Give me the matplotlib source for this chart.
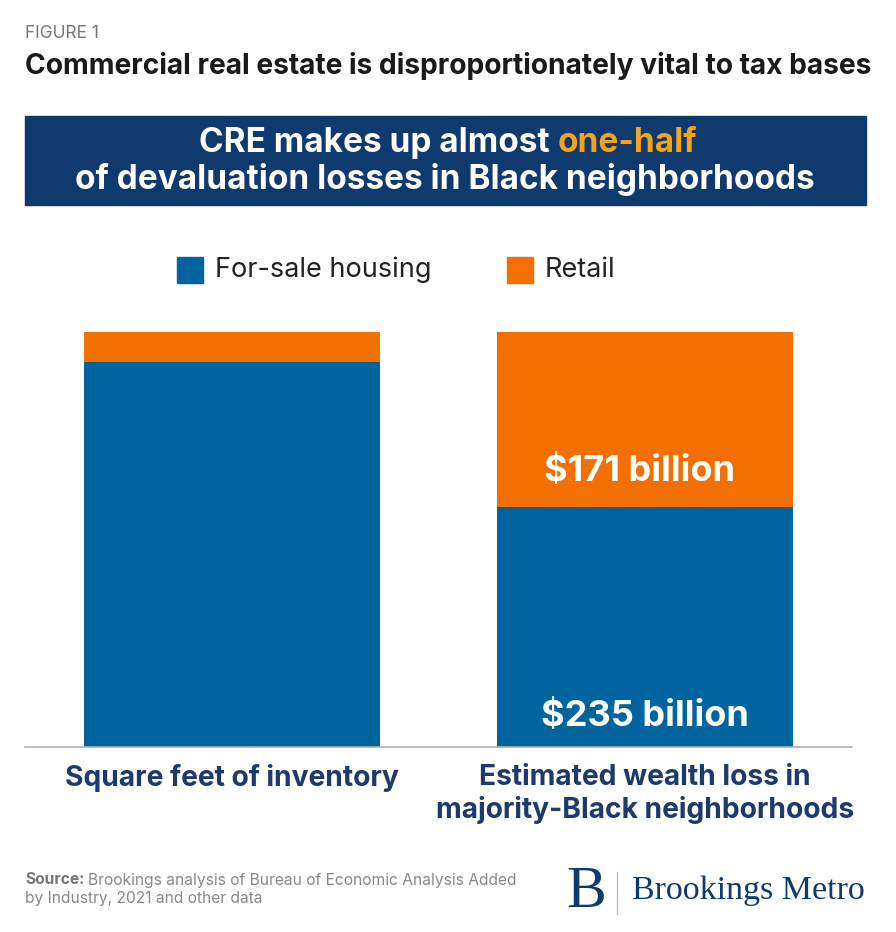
import matplotlib.pyplot as plt
from matplotlib.patches import Rectangle

categories = ["Square feet of inventory", "Estimated wealth loss in\nmajority-Black neighborhoods"]
housing = [92.7, 235]   # left bar: share of inventory (%), right bar: $ billion
retail = [7.3, 171]
value_labels = {"housing": [None, "$235 billion"], "retail": [None, "$171 billion"]}

BLUE = "#00649f"
ORANGE = "#f26f00"
NAVY = "#0f3a6e"
LABEL_NAVY = "#1c3a6a"
W, H = 896, 932

plt.rcParams['font.family'] = ['Inter', 'DejaVu Sans']

fig = plt.figure(figsize=(W / 100, H / 100), dpi=100)


def fx(x):
    return x / W


def fy(y):
    return 1 - y / H


# header
fig.text(fx(25), fy(33), "FIGURE 1", fontsize=12.5, color="#777777", va="center")
fig.text(fx(25), fy(66), "Commercial real estate is disproportionately vital to tax bases",
         fontsize=20.3, weight="bold", color="#1a1a1a", va="center")

# banner
fig.patches.append(Rectangle((fx(25), fy(205)), fx(866) - fx(25), fy(116) - fy(205),
                             transform=fig.transFigure, color=NAVY, zorder=0))
renderer = fig.canvas.get_renderer()
t1 = fig.text(0, fy(143), "CRE makes up almost ", fontsize=24, weight="bold", color="white", va="center")
t2 = fig.text(0, fy(143), "one-half", fontsize=24, weight="bold", color="#f7a21b", va="center")
w1 = t1.get_window_extent(renderer).width
w2 = t2.get_window_extent(renderer).width
start = (W - (w1 + w2)) / 2
t1.set_x(fx(start))
t2.set_x(fx(start + w1))
fig.text(fx(445), fy(180), "of devaluation losses in Black neighborhoods", fontsize=24,
         weight="bold", color="white", ha="center", va="center")

# legend
fig.patches.append(Rectangle((fx(177), fy(283)), fx(26), 26 / H, transform=fig.transFigure, color=BLUE))
fig.text(fx(215), fy(270), "For-sale housing", fontsize=19.5, color="#222222", va="center")
fig.patches.append(Rectangle((fx(507), fy(283)), fx(26), 26 / H, transform=fig.transFigure, color=ORANGE))
fig.text(fx(545), fy(270), "Retail", fontsize=19.5, color="#222222", va="center")

# chart
ax = fig.add_axes([fx(25), fy(747), fx(852) - fx(25), fy(332) - fy(747)])
x = range(len(categories))
tot = [h + r for h, r in zip(housing, retail)]
h_pct = [h / t * 100 for h, t in zip(housing, tot)]
r_pct = [r / t * 100 for r, t in zip(retail, tot)]
ax.bar(x, h_pct, width=0.717, color=BLUE)
ax.bar(x, r_pct, bottom=h_pct, width=0.717, color=ORANGE)

for i in x:
    if value_labels["retail"][i]:
        ax.text(i - 0.015, h_pct[i] + 8.6, value_labels["retail"][i], ha="center", va="center",
                fontsize=26, weight="bold", color="white")
    if value_labels["housing"][i]:
        ax.text(i, 7.4, value_labels["housing"][i], ha="center", va="center",
                fontsize=26, weight="bold", color="white")

ax.set_xlim(-0.5, 1.5)
ax.set_ylim(0, 100)
ax.set_yticks([])
ax.set_xticks(list(x))
ax.set_xticklabels(categories, fontsize=20.3, weight="bold", color=LABEL_NAVY, linespacing=1.25)
ax.tick_params(axis="x", length=0, pad=12)
for s in ["top", "left", "right"]:
    ax.spines[s].set_visible(False)
ax.spines["bottom"].set_color("#b0b0b0")
ax.spines["bottom"].set_linewidth(1.2)

# source
src = fig.text(fx(25), fy(880), "Source:", fontsize=11.2, weight="bold", color="#777777", va="center")
sw = src.get_window_extent(renderer).width
fig.text(fx(25 + sw + 4), fy(880), "Brookings analysis of Bureau of Economic Analysis Added",
         fontsize=11.2, color="#888888", va="center")
fig.text(fx(25), fy(899), "by Industry, 2021 and other data", fontsize=11.2, color="#888888", va="center")

# logo
fig.text(fx(566), fy(893), "B", fontsize=43, family="Liberation Serif", color=NAVY, va="center")
fig.add_artist(plt.Line2D([fx(617), fx(617)], [fy(872), fy(914)], color="#b8c0cc", lw=1))
fig.text(fx(632), fy(891), "Brookings Metro", fontsize=24.5, family="Liberation Serif", color=NAVY, va="center")

fig.savefig("out.png", dpi=100)
